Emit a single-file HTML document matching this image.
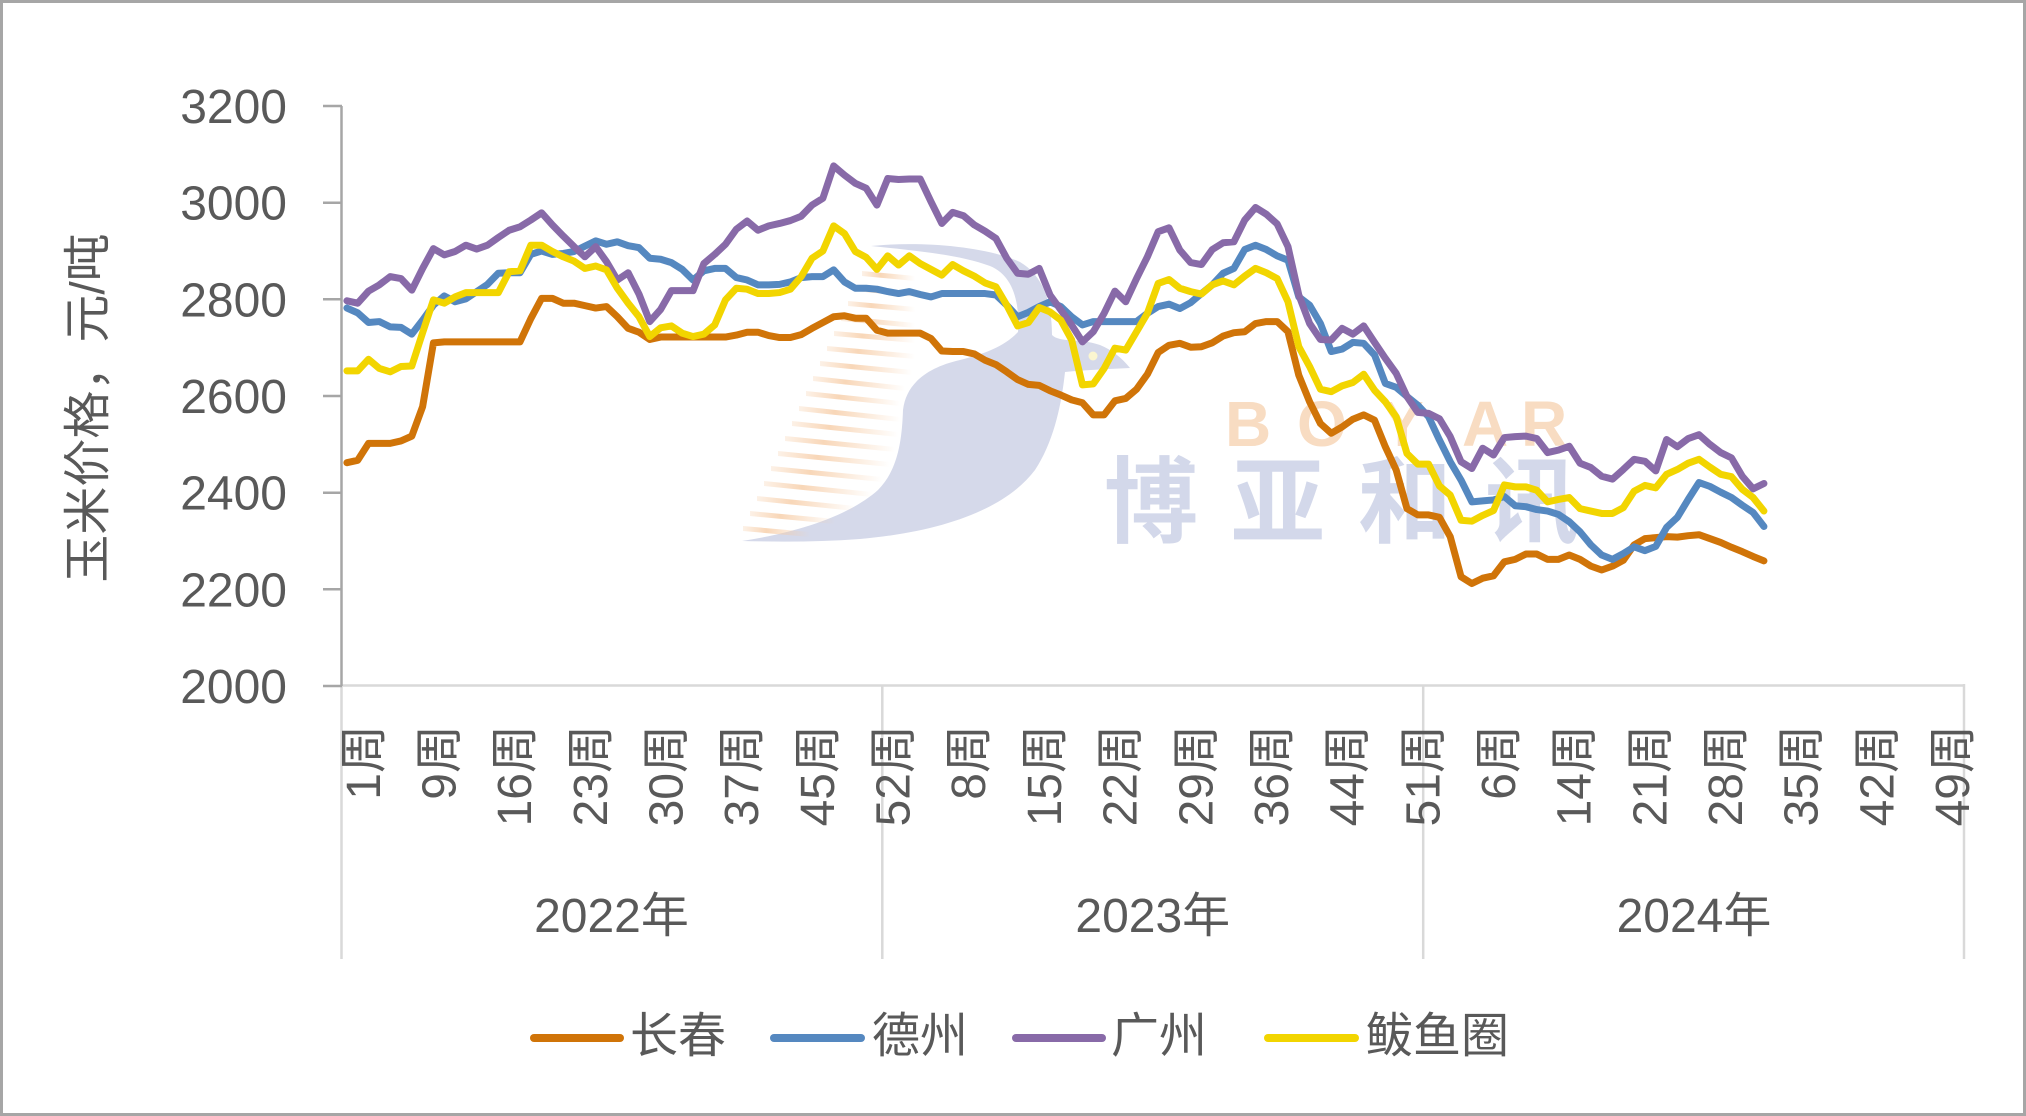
<!DOCTYPE html>
<html><head><meta charset="utf-8"><style>
html,body{margin:0;padding:0;background:#fff;}
svg{display:block;}
text{font-family:"Liberation Sans","Noto Sans CJK SC",sans-serif;fill:#595959;}
</style></head><body>
<svg width="2026" height="1116" viewBox="0 0 2026 1116" xmlns="http://www.w3.org/2000/svg">
<defs>
<linearGradient id="sg" x1="0" y1="0" x2="1" y2="0">
<stop offset="0" stop-color="#f6c9a0" stop-opacity="0.25"/>
<stop offset="0.35" stop-color="#f6c9a0" stop-opacity="0.75"/>
<stop offset="1" stop-color="#f6c9a0" stop-opacity="0"/>
</linearGradient>
</defs>
<rect x="0" y="0" width="2026" height="1116" fill="#fff"/>
<rect x="1.5" y="1.5" width="2023" height="1113" fill="none" stroke="#a6a6a6" stroke-width="3"/>

<!-- watermark -->
<g>
<path d="M871,246 C920,241 985,246 1020,262 C1042,275 1052,300 1052,335 C1060,343 1080,338 1100,345 C1112,350 1122,358 1130,368 C1110,369 1085,370 1065,372 C1062,400 1055,440 1035,470 C1005,510 940,532 860,539 C820,542 780,542 742,541 C800,532 850,515 878,490 C898,470 902,440 903,410 C906,385 925,368 960,360 C985,354 1005,346 1018,332 C1020,300 1012,275 990,266 C960,255 920,251 871,246 Z" fill="#d5d9ea"/>
<circle cx="1093" cy="356" r="4.5" fill="#fbf6d0"/>
<g fill="url(#sg)">
<polygon points="862,271 915,276 915,281 862,276"/>
<polygon points="855,286 915,292 915,297 855,291"/>
<polygon points="848,301 915,307 915,312 848,306"/>
<polygon points="841,316 915,323 915,328 841,321"/>
<polygon points="834,331 915,338 915,343 834,336"/>
<polygon points="827,346 915,354 915,359 827,351"/>
<polygon points="820,361 912,370 912,375 820,366"/>
<polygon points="813,376 905,386 905,391 813,381"/>
<polygon points="806,391 900,401 900,406 806,396"/>
<polygon points="799,406 900,417 900,422 799,411"/>
<polygon points="792,421 898,432 898,437 792,426"/>
<polygon points="785,436 895,447 895,452 785,441"/>
<polygon points="778,451 890,462 890,467 778,456"/>
<polygon points="771,466 882,477 882,482 771,471"/>
<polygon points="764,481 872,492 872,497 764,486"/>
<polygon points="757,496 855,506 855,511 757,501"/>
<polygon points="750,511 835,519 835,524 750,516"/>
<polygon points="743,526 810,532 810,537 743,531"/>
</g>
<g font-weight="bold" font-size="64" style="font-family:'Liberation Sans',sans-serif">
<text x="1225" y="446" style="fill:#f8dcc2">B</text>
<text x="1297" y="446" style="fill:#f8dcc2">O</text>
<text x="1381" y="446" style="fill:#f8dcc2">Y</text>
<text x="1462" y="446" style="fill:#f8dcc2">A</text>
<text x="1521" y="446" style="fill:#f8dcc2">R</text>
</g>
<text x="1104" y="535" font-size="94" font-weight="bold" letter-spacing="33" style="fill:#d3d8ea">博亚和讯</text>
</g>

<!-- axes -->
<g stroke="#d9d9d9" stroke-width="2.5" fill="none">
<line x1="341.5" y1="685.5" x2="1964" y2="685.5"/>
<line x1="341.5" y1="685.5" x2="341.5" y2="959"/>
<line x1="882.3" y1="685.5" x2="882.3" y2="959"/>
<line x1="1423.2" y1="685.5" x2="1423.2" y2="959"/>
<line x1="1964" y1="684" x2="1964" y2="959"/>
</g>
<g stroke="#a6a6a6" stroke-width="2.5" fill="none">
<line x1="341.5" y1="106" x2="341.5" y2="686"/>
<line x1="323" y1="106" x2="342" y2="106"/>
<line x1="323" y1="202.7" x2="342" y2="202.7"/>
<line x1="323" y1="299.3" x2="342" y2="299.3"/>
<line x1="323" y1="396" x2="342" y2="396"/>
<line x1="323" y1="492.7" x2="342" y2="492.7"/>
<line x1="323" y1="589.3" x2="342" y2="589.3"/>
<line x1="323" y1="686" x2="342" y2="686"/>
</g>

<!-- y labels -->
<g font-size="48" text-anchor="end">
<text x="287" y="123">3200</text>
<text x="287" y="219.7">3000</text>
<text x="287" y="316.3">2800</text>
<text x="287" y="413">2600</text>
<text x="287" y="509.7">2400</text>
<text x="287" y="606.3">2200</text>
<text x="287" y="703">2000</text>
</g>
<text transform="translate(104,408) rotate(-90)" font-size="48" text-anchor="middle">玉米价格，元/吨</text>

<!-- x labels -->
<g font-size="48" text-anchor="end">
<text transform="translate(379.8,725) rotate(-90)">1周</text>
<text transform="translate(455.5,725) rotate(-90)">9周</text>
<text transform="translate(531.2,725) rotate(-90)">16周</text>
<text transform="translate(606.8,725) rotate(-90)">23周</text>
<text transform="translate(682.5,725) rotate(-90)">30周</text>
<text transform="translate(758.2,725) rotate(-90)">37周</text>
<text transform="translate(833.9,725) rotate(-90)">45周</text>
<text transform="translate(909.6,725) rotate(-90)">52周</text>
<text transform="translate(985.2,725) rotate(-90)">8周</text>
<text transform="translate(1060.9,725) rotate(-90)">15周</text>
<text transform="translate(1136.6,725) rotate(-90)">22周</text>
<text transform="translate(1212.3,725) rotate(-90)">29周</text>
<text transform="translate(1288,725) rotate(-90)">36周</text>
<text transform="translate(1363.6,725) rotate(-90)">44周</text>
<text transform="translate(1439.3,725) rotate(-90)">51周</text>
<text transform="translate(1515,725) rotate(-90)">6周</text>
<text transform="translate(1590.7,725) rotate(-90)">14周</text>
<text transform="translate(1666.4,725) rotate(-90)">21周</text>
<text transform="translate(1742,725) rotate(-90)">28周</text>
<text transform="translate(1817.7,725) rotate(-90)">35周</text>
<text transform="translate(1893.4,725) rotate(-90)">42周</text>
<text transform="translate(1969,725) rotate(-90)">49周</text>
</g>
<g font-size="48" text-anchor="middle">
<text x="611.5" y="932">2022年</text>
<text x="1152.8" y="932">2023年</text>
<text x="1694" y="932">2024年</text>
</g>

<!-- series -->
<g transform="matrix(10.817,0,0,-0.48333,346.9,1651.7)" fill="none" stroke-linejoin="round" stroke-linecap="round">
<polyline vector-effect="non-scaling-stroke" stroke="#d07408" stroke-width="7" points="0,2460 1,2465 2,2500 3,2500 4,2500 5,2505 6,2515 7,2576 8,2708 9,2710 10,2710 11,2710 12,2710 13,2710 14,2710 15,2710 16,2710 17,2758 18,2800 19,2800 20,2790 21,2790 22,2785 23,2780 24,2783 25,2762 26,2738 27,2730 28,2715 29,2720 30,2720 31,2720 32,2720 33,2720 34,2720 35,2720 36,2724 37,2730 38,2730 39,2723 40,2719 41,2719 42,2725 43,2738 44,2750 45,2762 46,2764 47,2759 48,2759 49,2734 50,2728 51,2728 52,2728 53,2728 54,2717 55,2691 56,2690 57,2690 58,2685 59,2672 60,2663 61,2648 62,2632 63,2622 64,2620 65,2609 66,2600 67,2590 68,2584 69,2559 70,2559 71,2588 72,2593 73,2612 74,2643 75,2688 76,2703 77,2707 78,2699 79,2700 80,2708 81,2722 82,2729 83,2731 84,2748 85,2752 86,2752 87,2731 88,2641 89,2586 90,2541 91,2521 92,2534 93,2550 94,2559 95,2548 96,2493 97,2445 98,2365 99,2352 100,2352 101,2347 102,2307 103,2224 104,2210 105,2221 106,2226 107,2255 108,2260 109,2271 110,2271 111,2260 112,2260 113,2269 114,2260 115,2246 116,2238 117,2246 118,2258 119,2290 120,2303 121,2305 122,2307 123,2306 124,2309 125,2311 126,2303 127,2295 128,2285 129,2276 130,2266 131,2257"/>
<polyline vector-effect="non-scaling-stroke" stroke="#5588c0" stroke-width="7" points="0,2780 1,2770 2,2750 3,2752 4,2741 5,2740 6,2726 7,2755 8,2786 9,2805 10,2793 11,2799 12,2814 13,2829 14,2852 15,2853 16,2853 17,2891 18,2898 19,2891 20,2893 21,2897 22,2908 23,2919 24,2912 25,2917 26,2909 27,2905 28,2883 29,2881 30,2874 31,2860 32,2838 33,2857 34,2862 35,2862 36,2843 37,2838 38,2828 39,2828 40,2829 41,2834 42,2843 43,2845 44,2845 45,2859 46,2834 47,2821 48,2821 49,2819 50,2814 51,2810 52,2814 53,2808 54,2803 55,2810 56,2810 57,2810 58,2810 59,2810 60,2807 61,2786 62,2762 63,2771 64,2783 65,2793 66,2783 67,2762 68,2745 69,2752 70,2752 71,2752 72,2752 73,2752 74,2769 75,2783 76,2788 77,2779 78,2791 79,2810 80,2828 81,2852 82,2862 83,2901 84,2910 85,2901 86,2888 87,2879 88,2803 89,2786 90,2748 91,2690 92,2695 93,2709 94,2707 95,2683 96,2624 97,2616 98,2597 99,2579 100,2555 101,2507 102,2462 103,2424 104,2379 105,2381 106,2383 107,2390 108,2371 109,2369 110,2363 111,2360 112,2353 113,2338 114,2317 115,2290 116,2269 117,2260 118,2272 119,2286 120,2278 121,2287 122,2326 123,2347 124,2384 125,2419 126,2411 127,2399 128,2388 129,2372 130,2357 131,2328"/>
<polyline vector-effect="non-scaling-stroke" stroke="#886aa8" stroke-width="7" points="0,2795 1,2790 2,2815 3,2828 4,2845 5,2841 6,2817 7,2862 8,2903 9,2890 10,2897 11,2910 12,2902 13,2910 14,2926 15,2941 16,2948 17,2962 18,2977 19,2952 20,2929 21,2907 22,2886 23,2907 24,2876 25,2838 26,2853 27,2809 28,2752 29,2777 30,2816 31,2816 32,2816 33,2872 34,2891 35,2912 36,2943 37,2960 38,2941 39,2950 40,2955 41,2961 42,2970 43,2993 44,3007 45,3074 46,3055 47,3038 48,3028 49,2993 50,3048 51,3046 52,3047 53,3047 54,3000 55,2955 56,2978 57,2971 58,2952 59,2939 60,2924 61,2883 62,2852 63,2850 64,2862 65,2807 66,2776 67,2745 68,2710 69,2731 70,2769 71,2815 72,2793 73,2841 74,2886 75,2938 76,2946 77,2900 78,2874 79,2870 80,2901 81,2915 82,2917 83,2962 84,2988 85,2974 86,2954 87,2907 88,2807 89,2748 90,2715 91,2714 92,2738 93,2726 94,2743 95,2709 96,2676 97,2645 98,2597 99,2564 100,2562 101,2551 102,2514 103,2462 104,2448 105,2490 106,2476 107,2512 108,2514 109,2515 110,2510 111,2481 112,2486 113,2494 114,2459 115,2450 116,2432 117,2426 118,2446 119,2467 120,2463 121,2443 122,2508 123,2493 124,2510 125,2518 126,2498 127,2481 128,2470 129,2432 130,2406 131,2417"/>
<polyline vector-effect="non-scaling-stroke" stroke="#f2d500" stroke-width="7" points="0,2650 1,2650 2,2674 3,2655 4,2648 5,2659 6,2660 7,2729 8,2797 9,2790 10,2803 11,2812 12,2812 13,2812 14,2812 15,2855 16,2857 17,2910 18,2910 19,2897 20,2886 21,2877 22,2862 23,2867 24,2859 25,2821 26,2790 27,2762 28,2721 29,2739 30,2743 31,2728 32,2721 33,2726 34,2745 35,2797 36,2821 37,2819 38,2810 39,2810 40,2812 41,2819 42,2845 43,2883 44,2898 45,2950 46,2934 47,2897 48,2885 49,2860 50,2888 51,2869 52,2888 53,2872 54,2860 55,2848 56,2870 57,2857 58,2846 59,2832 60,2824 61,2786 62,2743 63,2750 64,2781 65,2772 66,2755 67,2714 68,2621 69,2623 70,2655 71,2697 72,2693 73,2731 74,2769 75,2831 76,2839 77,2821 78,2814 79,2809 80,2828 81,2836 82,2828 83,2846 84,2862 85,2853 86,2841 87,2793 88,2700 89,2659 90,2612 91,2607 92,2619 93,2626 94,2643 95,2610 96,2586 97,2555 98,2479 99,2457 100,2457 101,2412 102,2393 103,2341 104,2339 105,2351 106,2361 107,2414 108,2410 109,2410 110,2403 111,2379 112,2384 113,2388 114,2365 115,2360 116,2355 117,2355 118,2367 119,2401 120,2413 121,2408 122,2436 123,2446 124,2459 125,2467 126,2451 127,2436 128,2431 129,2405 130,2388 131,2360"/>
</g>

<!-- legend -->
<g stroke-width="8" stroke-linecap="round">
<line x1="534" y1="1038" x2="620" y2="1038" stroke="#d07408"/>
<line x1="774" y1="1038" x2="861" y2="1038" stroke="#5588c0"/>
<line x1="1016" y1="1038" x2="1102" y2="1038" stroke="#886aa8"/>
<line x1="1268" y1="1038" x2="1355" y2="1038" stroke="#f2d500"/>
</g>
<g font-size="48">
<text x="630" y="1052">长春</text>
<text x="872" y="1052">德州</text>
<text x="1111" y="1052">广州</text>
<text x="1365" y="1052">鲅鱼圈</text>
</g>
</svg>
</body></html>
